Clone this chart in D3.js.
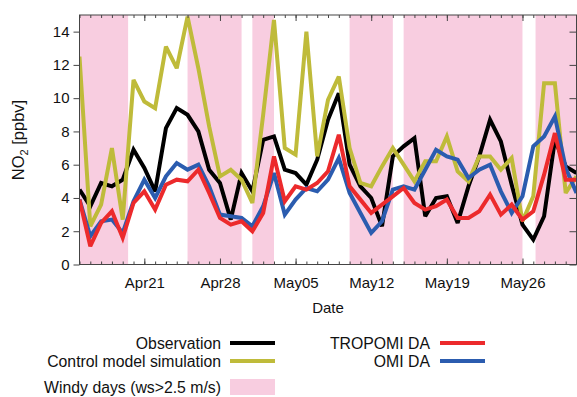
<!DOCTYPE html>
<html>
<head>
<meta charset="utf-8">
<script src="https://cdn.jsdelivr.net/npm/d3@7"></script>
<style>
  body { margin: 0; background: #fff; }
  svg { display: block; font-family: "Liberation Sans", Arial, sans-serif; }
</style>
</head>
<body>
<div id="container"></div>
<script>
const startDate = "2019-04-15";
const endDate = "2019-05-31";

// daily values, Apr 15 .. May 31
const observation = [4.5, 3.5, 4.9, 4.7, 5.1, 6.9, 5.8, 4.4, 8.2, 9.4, 9.0, 8.0, 5.7, 4.9, 2.7, 5.5, 4.4, 7.5, 7.7, 5.7, 5.5, 4.8, 6.3, 8.7, 10.3, 6.0, 4.7, 4.0, 2.3, 6.5, 7.1, 7.6, 2.9, 4.0, 4.1, 2.5, 4.7, 6.5, 8.7, 7.4, 4.8, 2.4, 1.5, 2.9, 7.5, 5.9, 5.5];
const control = [12.5, 2.3, 3.6, 7.0, 2.7, 11.1, 9.8, 9.4, 13.1, 11.8, 14.9, 11.8, 8.3, 5.3, 5.7, 5.1, 3.7, 9.0, 14.7, 7.0, 6.6, 14.0, 6.5, 9.9, 11.3, 7.0, 4.9, 4.7, 5.9, 7.0, 6.0, 5.0, 6.2, 6.2, 7.7, 5.6, 5.0, 6.5, 6.5, 5.7, 6.4, 2.6, 4.1, 10.9, 10.9, 4.3, 5.3];
const tropomi = [3.9, 1.1, 2.5, 3.2, 1.6, 3.7, 4.4, 3.3, 4.8, 5.1, 5.0, 5.7, 4.3, 2.8, 2.4, 2.6, 2.0, 3.1, 6.5, 3.8, 4.7, 4.5, 4.9, 5.6, 7.8, 4.7, 3.9, 3.1, 3.6, 4.1, 4.6, 3.7, 3.3, 3.5, 3.9, 2.8, 2.8, 3.2, 4.2, 3.0, 3.6, 2.7, 3.2, 5.4, 7.9, 5.1, 5.1];
const omi = [3.9, 1.7, 2.6, 2.7, 1.9, 3.8, 5.1, 4.0, 5.3, 6.1, 5.7, 6.0, 4.7, 3.0, 2.9, 2.8, 2.3, 3.5, 5.5, 3.0, 3.9, 4.6, 4.4, 5.1, 6.4, 4.3, 3.1, 1.9, 2.6, 4.5, 4.7, 4.5, 5.7, 6.9, 6.5, 6.3, 5.2, 5.7, 6.0, 4.4, 3.1, 4.1, 7.1, 7.7, 8.9, 5.8, 4.3];

// windy periods (ws > 2.5 m/s)
const windyStart = ["2019-04-15T00:00", "2019-04-25T00:00", "2019-05-01T00:00", "2019-05-10T00:00", "2019-05-15T00:00", "2019-05-27T05:00"];
const windyEnd = ["2019-04-19T12:00", "2019-04-30T00:00", "2019-05-03T00:00", "2019-05-14T00:00", "2019-05-26T00:00", "2019-05-31T00:00"];

const xTickLabels = ["2019-04-21", "2019-04-28", "2019-05-05", "2019-05-12", "2019-05-19", "2019-05-26"];
const yTicks = [0, 2, 4, 6, 8, 10, 12, 14];

const seriesNames = ["Observation", "Control model simulation", "TROPOMI DA", "OMI DA"];
const seriesColors = ["#000000", "#bfbb3a", "#ec2a2c", "#2b5caf"];
const windyColor = "#f8cde0";

const w = 577;
const h = 397;
const m = { left: 79.5, right: 576.5, top: 15, bottom: 264.5 };
const fontSize = "15px";

const parse = d3.timeParse("%Y-%m-%d");
const parseT = d3.timeParse("%Y-%m-%dT%H:%M");
const days = d3.timeDay.range(parse(startDate), d3.timeDay.offset(parse(endDate), 1));

const x = d3.scaleTime().domain([parse(startDate), parse(endDate)]).range([m.left, m.right]);
const y = d3.scaleLinear().domain([0, 15]).range([m.bottom, m.top]);

const svg = d3.select("#container").append("svg")
  .attr("width", w).attr("height", h);

svg.append("defs").append("clipPath").attr("id", "clip")
  .append("rect").attr("x", m.left).attr("y", m.top)
  .attr("width", m.right - m.left).attr("height", m.bottom - m.top);

const plot = svg.append("g").attr("clip-path", "url(#clip)");

// windy day bands
plot.selectAll("rect.windy")
  .data(windyStart.map((s, i) => [parseT(s), parseT(windyEnd[i])]))
  .enter().append("rect")
  .attr("class", "windy")
  .attr("x", d => x(d[0]))
  .attr("width", d => x(d[1]) - x(d[0]))
  .attr("y", m.top).attr("height", m.bottom - m.top)
  .attr("fill", windyColor);

// lines
const line = d3.line().x((d, i) => x(days[i])).y(d => y(d));
const drawOrder = [[observation, 0], [control, 1], [omi, 3], [tropomi, 2]];
drawOrder.forEach(([vals, k]) => {
  plot.append("path")
    .datum(vals)
    .attr("d", line)
    .attr("fill", "none")
    .attr("stroke", seriesColors[k])
    .attr("stroke-width", 4)
    .attr("stroke-linejoin", "miter")
    .attr("stroke-miterlimit", 3);
});

const axisColor = "#444";

// bottom axis: daily minor ticks inward, labelled weekly ticks
const xMajor = xTickLabels.map(parse);
const bottomAxis = svg.append("g")
  .attr("transform", `translate(0, ${m.bottom})`)
  .call(d3.axisBottom(x).tickValues(days).tickSize(-3).tickFormat(""));
bottomAxis.append("g")
  .call(d3.axisBottom(x).tickValues(xMajor).tickSize(-6).tickPadding(13).tickFormat(d3.timeFormat("%b%d")));

const topAxis = svg.append("g")
  .attr("transform", `translate(0, ${m.top})`)
  .call(d3.axisTop(x).tickValues(days).tickSize(-3).tickFormat(""));
topAxis.append("g")
  .call(d3.axisTop(x).tickValues(xMajor).tickSize(-6).tickFormat(""));

svg.append("g")
  .attr("transform", `translate(${m.left}, 0)`)
  .call(d3.axisLeft(y).tickValues(yTicks).tickSize(6).tickPadding(4));

svg.append("g")
  .attr("transform", `translate(${m.right}, 0)`)
  .call(d3.axisRight(y).tickValues(yTicks).tickSize(-7).tickFormat(""));

svg.selectAll(".domain").remove();
svg.selectAll(".tick line").attr("stroke", axisColor);
svg.selectAll(".tick text")
  .attr("fill", "#111")
  .style("font-size", fontSize)
  .style("font-family", "'Liberation Sans', Arial, sans-serif");

// frame
svg.append("rect")
  .attr("x", m.left).attr("y", m.top)
  .attr("width", m.right - m.left).attr("height", m.bottom - m.top)
  .attr("fill", "none").attr("stroke", axisColor).attr("stroke-width", 1);

// axis titles
svg.append("text")
  .attr("x", (m.left + m.right) / 2).attr("y", 313)
  .attr("text-anchor", "middle")
  .attr("fill", "#111")
  .style("font-size", fontSize)
  .text("Date");

const yTitle = svg.append("text")
  .attr("transform", `translate(24, 140) rotate(-90)`)
  .attr("text-anchor", "middle")
  .attr("fill", "#111")
  .style("font-size", "16.5px");
yTitle.append("tspan").text("NO");
yTitle.append("tspan").attr("dy", 4).style("font-size", "11px").text("2");
yTitle.append("tspan").attr("dy", -4).text(" [ppbv]");

// legend
const legendItems = [
  { name: seriesNames[0], color: seriesColors[0], tx: 221, y: 343, lx: 230, type: "line" },
  { name: seriesNames[1], color: seriesColors[1], tx: 221, y: 361, lx: 230, type: "line" },
  { name: "Windy days (ws>2.5 m/s)", color: windyColor, tx: 221, y: 387, lx: 230, type: "rect" },
  { name: seriesNames[2], color: seriesColors[2], tx: 430, y: 343, lx: 440, type: "line" },
  { name: seriesNames[3], color: seriesColors[3], tx: 430, y: 361, lx: 440, type: "line" }
];
const legend = svg.append("g");
legendItems.forEach(d => {
  legend.append("text")
    .attr("x", d.tx).attr("y", d.y + 5.5)
    .attr("text-anchor", "end")
    .style("font-size", "15.8px")
    .attr("fill", "#111")
    .text(d.name);
  if (d.type === "line") {
    legend.append("line")
      .attr("x1", d.lx).attr("x2", d.lx + 45)
      .attr("y1", d.y).attr("y2", d.y)
      .attr("stroke", d.color).attr("stroke-width", 4);
  } else {
    legend.append("rect")
      .attr("x", d.lx).attr("y", d.y - 8)
      .attr("width", 45).attr("height", 16)
      .attr("fill", d.color);
  }
});
</script>
</body>
</html>
